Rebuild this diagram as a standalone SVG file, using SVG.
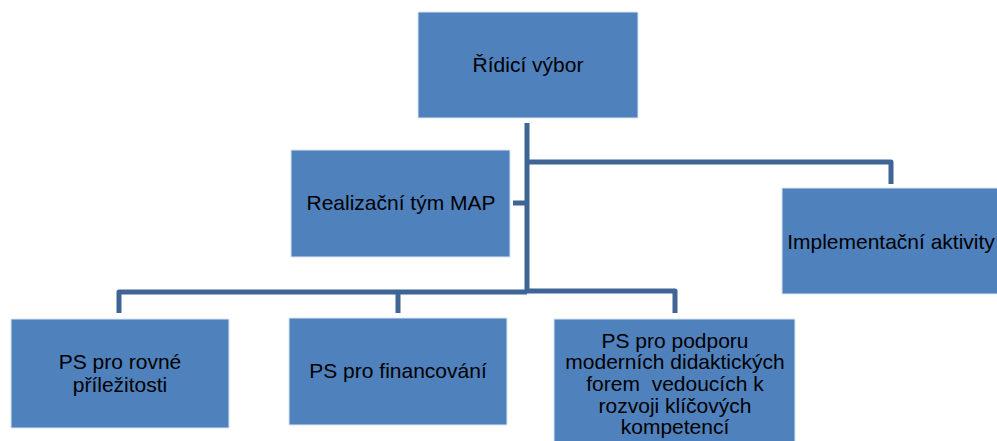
<svg xmlns="http://www.w3.org/2000/svg" width="997" height="441" viewBox="0 0 997 441">
<style>
.box{fill:#4F81BD;stroke:#DCE6F2;stroke-width:1}
.t{font-family:"Liberation Sans",Arial,sans-serif;font-size:21px;fill:#000;text-anchor:middle}
.c{fill:none;stroke:#3E6596;stroke-width:5;stroke-linejoin:round}
</style>
<rect width="997" height="441" fill="#fff"/>
<g id="connectors">
<polyline class="c" points="527,123 527,292"/>
<polyline class="c" points="527,162 891,162 891,184"/>
<polyline class="c" points="513,203 527,203"/>
<polyline class="c" points="527,292 119,292 119,313"/>
<polyline class="c" points="527,291 675,291 675,313"/>
<polyline class="c" points="398,291 398,313"/>
</g>
<g id="ridici">
<rect class="box" x="418" y="12" width="220" height="106"/>
<text class="t" x="528" y="72">Řídicí výbor</text>
</g>
<g id="realizacni">
<rect class="box" x="291" y="150" width="219" height="107"/>
<text class="t" x="401" y="210">Realizační tým MAP</text>
</g>
<g id="implementacni">
<rect class="box" x="782" y="188" width="220" height="106"/>
<text class="t" x="891" y="249">Implementační aktivity</text>
</g>
<g id="ps1">
<rect class="box" x="11" y="319" width="218" height="109"/>
<text class="t" x="120" y="369">PS pro rovné</text>
<text class="t" x="120" y="392">příležitosti</text>
</g>
<g id="ps2">
<rect class="box" x="289" y="318" width="218" height="107"/>
<text class="t" x="398" y="378">PS pro financování</text>
</g>
<g id="ps3">
<rect class="box" x="554" y="319" width="241" height="130"/>
<text class="t" x="675" y="348">PS pro podporu</text>
<text class="t" x="675" y="369">moderních didaktických</text>
<text class="t" x="675" y="391">forem&#160; vedoucích k</text>
<text class="t" x="675" y="413">rozvoji klíčových</text>
<text class="t" x="675" y="434">kompetencí</text>
</g>
</svg>
